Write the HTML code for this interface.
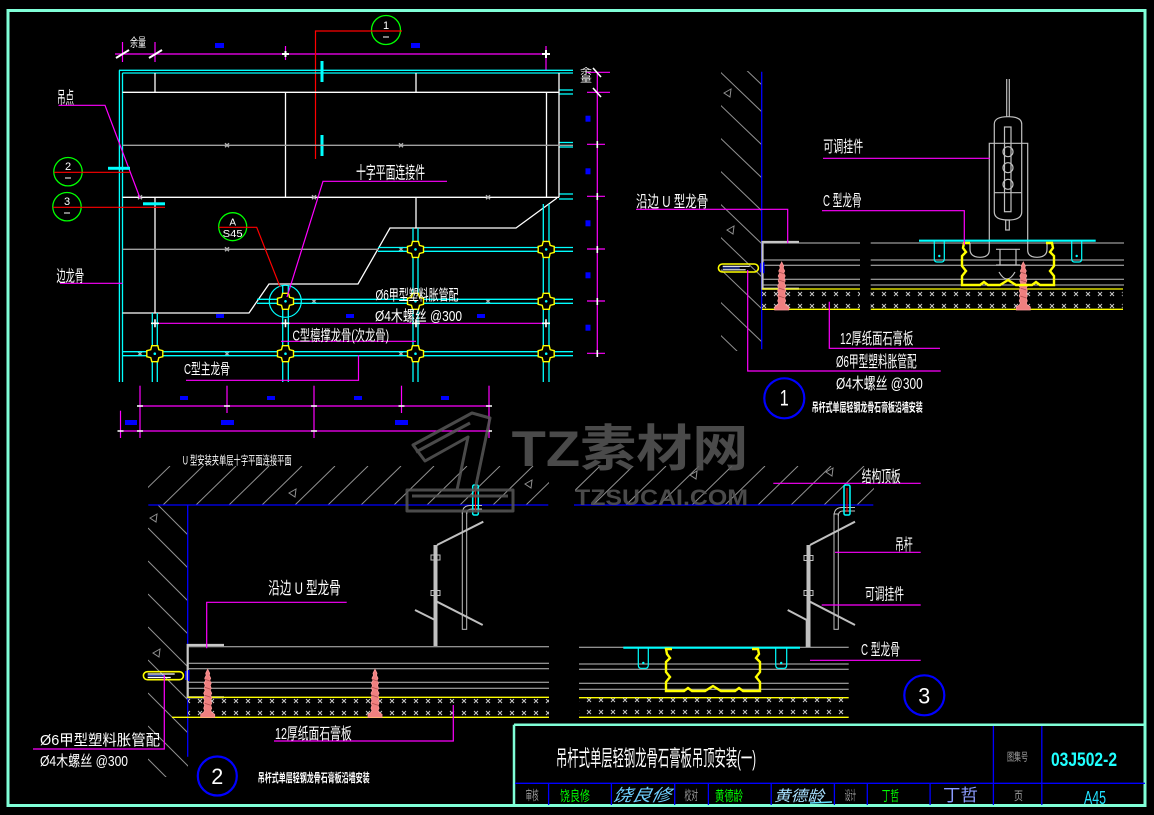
<!DOCTYPE html>
<html><head><meta charset="utf-8">
<style>
html,body{margin:0;padding:0;background:#000;}
svg{display:block;}
text{font-family:"Liberation Sans","Noto Sans CJK SC",sans-serif;}
</style></head><body>
<svg width="1154" height="815" viewBox="0 0 1154 815" xmlns="http://www.w3.org/2000/svg">
<rect width="1154" height="815" fill="#000"/>
<defs>
 <pattern id="xp1" x="2" y="0" width="12" height="12" patternUnits="userSpaceOnUse"><path d="M4,4 L8,8 M8,4 L4,8" stroke="#c8c8c8" stroke-width="1"/></pattern>
 <pattern id="xp2" x="2" y="11" width="12" height="12" patternUnits="userSpaceOnUse"><path d="M4,4 L8,8 M8,4 L4,8" stroke="#c8c8c8" stroke-width="1"/></pattern>
 <pattern id="xp3" x="7" y="10" width="12" height="12" patternUnits="userSpaceOnUse"><path d="M4,4 L8,8 M8,4 L4,8" stroke="#c8c8c8" stroke-width="1"/></pattern>
 <g id="sc">
  <polygon points="0,0 2,4 1.5,6 3,9 2,11 3.5,14 2.5,16 3.5,19 2.5,21 4,24 3,26 4,29 3,31 4,34 3,36 4,39 3,41 4,43 7,45 7,48 -7,48 -7,45 -4,43 -3,41 -4,39 -3,36 -4,34 -3,31 -4,29 -3,26 -4,24 -2.5,21 -3.5,19 -2.5,16 -3.5,14 -2,11 -3,9 -1.5,6 -2,4" fill="#f08080" stroke="#ff9a9a" stroke-width="0.8"/>
  <path d="M-3,10 L3,12 M-3,18 L3,20 M-3,26 L3,28 M-3,34 L3,36" stroke="#b05050" stroke-width="0.8"/>
 </g>
 <g id="an">
  <rect x="0.7" y="0.7" width="40" height="8" rx="4" fill="none" stroke="#ffff00" stroke-width="1.6"/>
  <path d="M5,3 L32,3 M5,6.5 L28,6.5" stroke="#fff" stroke-width="1.2"/>
  <path d="M5,4.7 L22,4.7" stroke="#4060ff" stroke-width="1"/>
  <path d="M43,0 L43,9 M46,-1 L46,10" stroke="#0000ff" stroke-width="1.5"/>
 </g>
 <g id="nd">
  <polygon points="-3,-8 3,-8 4,-4 8,-3 8,3 4,4 3,8 -3,8 -4,4 -8,3 -8,-3 -4,-4" fill="#000" stroke="#ffff00" stroke-width="1.4"/>
  <circle cx="0" cy="0" r="1.3" fill="#00ffff"/>
 </g>
 <clipPath id="cw1"><rect x="721" y="71" width="41" height="280"/></clipPath>
 <clipPath id="cw2"><rect x="148" y="505" width="40" height="272"/></clipPath>
 <clipPath id="ct2"><rect x="148" y="466" width="401" height="39"/></clipPath>
 <clipPath id="ct3"><rect x="575" y="466" width="299" height="39"/></clipPath>
</defs>

<!-- ===== Sheet border ===== -->
<rect x="8" y="10.5" width="1137" height="795" fill="none" stroke="#80ffd8" stroke-width="3"/>

<!-- ===== PLAN (top-left) ===== -->
<!-- top dimension -->
<g stroke="#ff00ff" stroke-width="1.2">
 <line x1="115" y1="54" x2="550" y2="54"/>
 <line x1="122.5" y1="42" x2="122.5" y2="62"/>
 <line x1="155" y1="42" x2="155" y2="62"/>
 <line x1="285.5" y1="46" x2="285.5" y2="60"/>
 <line x1="546" y1="46" x2="546" y2="70"/>
</g>
<g stroke="#fff" stroke-width="2">
 <line x1="116" y1="58" x2="129" y2="50"/>
 <line x1="149" y1="58" x2="162" y2="50"/>
 <line x1="282" y1="54" x2="289" y2="54"/><line x1="285.5" y1="51" x2="285.5" y2="57"/>
 <line x1="542" y1="54" x2="550" y2="54"/><line x1="546" y1="50" x2="546" y2="58"/>
</g>
<text x="130" y="46.5" font-size="12" fill="#fff" textLength="16" lengthAdjust="spacingAndGlyphs">余量</text>
<rect x="215" y="43" width="9" height="5" fill="#0000ff"/>
<rect x="411" y="43" width="9" height="5" fill="#0000ff"/>

<!-- circle 1 -->
<circle cx="386" cy="30" r="14.5" fill="none" stroke="#00ff00" stroke-width="1.3"/>
<text x="386" y="29" font-size="11" fill="#fff" text-anchor="middle">1</text>
<line x1="383" y1="37" x2="389" y2="37" stroke="#fff" stroke-width="1"/>
<path d="M402,31 L315.5,31 L315.5,159" fill="none" stroke="#ff0000" stroke-width="1.2"/>
<rect x="320.5" y="61" width="3" height="21" fill="#00ffff"/>
<rect x="320.5" y="135" width="3" height="21" fill="#00ffff"/>

<!-- frame cyan -->
<g stroke="#00ffff" stroke-width="1.3" fill="none">
 <line x1="119" y1="70.3" x2="573" y2="70.3"/>
 <line x1="122.5" y1="73" x2="573" y2="73"/>
 <line x1="119.4" y1="70.3" x2="119.4" y2="382"/>
 <line x1="122.5" y1="73" x2="122.5" y2="382"/>
 <line x1="559" y1="90" x2="573" y2="90"/><line x1="559" y1="94" x2="573" y2="94"/>
 <line x1="559" y1="142.5" x2="573" y2="142.5"/><line x1="559" y1="147" x2="573" y2="147"/>
 <line x1="559" y1="194" x2="573" y2="194"/><line x1="559" y1="199" x2="573" y2="199"/>
</g>
<!-- white lines -->
<g stroke="#fff" stroke-width="1.3" fill="none">
 <line x1="122.5" y1="92.3" x2="559" y2="92.3"/>
 <line x1="559" y1="73" x2="559" y2="197.3"/>
 <line x1="546.5" y1="92.3" x2="546.5" y2="197.3"/>
 <line x1="155" y1="73" x2="155" y2="92.3"/>
 <line x1="416" y1="73" x2="416" y2="92.3"/>
 <line x1="285.5" y1="92.3" x2="285.5" y2="197.3"/>
 <line x1="122.5" y1="197.3" x2="559" y2="197.3"/>
 <line x1="155" y1="197.3" x2="155" y2="313"/>
 <line x1="416" y1="197.3" x2="416" y2="228"/>
 <path d="M557,198 L516,228 L390,228 L358,284 L269,284 L249,313 L122.5,313"/>
</g>
<g stroke="#a0a0a0" stroke-width="1.3">
 <line x1="122.5" y1="145.3" x2="573" y2="145.3"/>
 <line x1="122.5" y1="249.3" x2="378" y2="249.3"/>
</g>
<path d="M225,143.3 l4,4 m0,-4 l-4,4 M399,143.3 l4,4 m0,-4 l-4,4 M138,195.3 l4,4 m0,-4 l-4,4 M312,195.3 l4,4 m0,-4 l-4,4 M486,195.3 l4,4 m0,-4 l-4,4 M225,247.3 l4,4 m0,-4 l-4,4 M399,247.3 l4,4 m0,-4 l-4,4 M312,299.3 l4,4 m0,-4 l-4,4 M486,299.3 l4,4 m0,-4 l-4,4 M138,351.7 l4,4 m0,-4 l-4,4 M225,351.7 l4,4 m0,-4 l-4,4 M399,351.7 l4,4 m0,-4 l-4,4" stroke="#b0b0b0" stroke-width="1.4"/>

<!-- cyan grid -->
<g stroke="#00ffff" stroke-width="1.3">
 <line x1="378" y1="247.5" x2="573" y2="247.5"/><line x1="378" y1="251.3" x2="573" y2="251.3"/>
 <line x1="257" y1="299.3" x2="573" y2="299.3"/><line x1="257" y1="303.3" x2="573" y2="303.3"/>
 <line x1="122.5" y1="351.7" x2="573" y2="351.7"/><line x1="122.5" y1="355.7" x2="573" y2="355.7"/>
 <line x1="152.3" y1="313" x2="152.3" y2="382"/><line x1="157.3" y1="313" x2="157.3" y2="382"/>
 <line x1="282.7" y1="286" x2="282.7" y2="382"/><line x1="288.3" y1="286" x2="288.3" y2="382"/>
 <line x1="413" y1="228" x2="413" y2="382"/><line x1="418" y1="228" x2="418" y2="382"/>
 <line x1="543.3" y1="204" x2="543.3" y2="382"/><line x1="549" y1="204" x2="549" y2="382"/>
</g>
<circle cx="285.3" cy="301.3" r="16" fill="none" stroke="#00ffff" stroke-width="1.2"/>
<use href="#nd" x="415.5" y="249.4"/>
<use href="#nd" x="546.2" y="249.4"/>
<use href="#nd" x="285.5" y="301.3"/>
<use href="#nd" x="415.5" y="301.3"/>
<use href="#nd" x="546.2" y="301.3"/>
<use href="#nd" x="154.8" y="353.7"/>
<use href="#nd" x="285.5" y="353.7"/>
<use href="#nd" x="415.5" y="353.7"/>
<use href="#nd" x="546.2" y="353.7"/>

<!-- plan leaders -->
<g stroke="#ff00ff" stroke-width="1.2" fill="none">
 <path d="M447,181.3 L323,181.3 L287,297"/>
 <path d="M58.5,105.3 L105,105.3 L140,198"/>
 <line x1="60" y1="283.3" x2="122.5" y2="283.3"/>
 <line x1="154" y1="323.3" x2="546" y2="323.3"/>
 <line x1="281" y1="341.3" x2="416" y2="341.3"/>
 <path d="M186,380.3 L358.5,380.3 L358.5,355"/>
</g>
<g stroke="#fff" stroke-width="1.6">
 <path d="M151,323.3 h8 M155,319.3 v8 M281.5,323.3 h8 M285.5,319.3 v8 M412,323.3 h8 M416,319.3 v8 M542,323.3 h8 M546,319.3 v8"/>
</g>
<text x="57" y="103.5" font-size="17" fill="#fff" textLength="17" lengthAdjust="spacingAndGlyphs">吊点</text>
<text x="56.5" y="281.5" font-size="16" fill="#fff" textLength="27.5" lengthAdjust="spacingAndGlyphs">边龙骨</text>
<text x="356" y="178.5" font-size="17" fill="#fff" textLength="69" lengthAdjust="spacingAndGlyphs">十字平面连接件</text>
<text x="375.5" y="300" font-size="15" fill="#fff" textLength="83" lengthAdjust="spacingAndGlyphs">Ø6甲型塑料胀管配</text>
<text x="375" y="321" font-size="15" fill="#fff" textLength="87" lengthAdjust="spacingAndGlyphs">Ø4木螺丝  @300</text>
<text x="292.5" y="340.5" font-size="15" fill="#fff" textLength="96.5" lengthAdjust="spacingAndGlyphs">C型檩撑龙骨(次龙骨)</text>
<text x="184" y="374" font-size="15" fill="#fff" textLength="46" lengthAdjust="spacingAndGlyphs">C型主龙骨</text>

<!-- circles 2,3,A -->
<circle cx="68" cy="171.7" r="14.2" fill="none" stroke="#00ff00" stroke-width="1.3"/>
<text x="68" y="170" font-size="11" fill="#fff" text-anchor="middle">2</text>
<line x1="65" y1="178" x2="71" y2="178" stroke="#fff"/>
<line x1="54" y1="172.3" x2="130" y2="172.3" stroke="#ff0000" stroke-width="1.2"/>
<rect x="108" y="166.8" width="22" height="3" fill="#00ffff"/>
<circle cx="67" cy="206.7" r="14.2" fill="none" stroke="#00ff00" stroke-width="1.3"/>
<text x="67" y="205" font-size="11" fill="#fff" text-anchor="middle">3</text>
<line x1="64" y1="213" x2="70" y2="213" stroke="#fff"/>
<line x1="53" y1="207.3" x2="165" y2="207.3" stroke="#ff0000" stroke-width="1.2"/>
<rect x="143" y="202.3" width="22" height="3" fill="#00ffff"/>
<circle cx="232.7" cy="226.7" r="14" fill="none" stroke="#00ff00" stroke-width="1.3"/>
<text x="232.7" y="225.5" font-size="10" fill="#fff" text-anchor="middle">A</text>
<text x="222.7" y="237" font-size="10" fill="#fff" textLength="20" lengthAdjust="spacingAndGlyphs">S45</text>
<path d="M218.7,227.3 L256.7,227.3 L280,286.7" fill="none" stroke="#ff0000" stroke-width="1.2"/>

<rect x="216" y="314" width="8" height="4" fill="#0000ff"/>
<rect x="346" y="314" width="8" height="4" fill="#0000ff"/>
<rect x="477" y="314" width="8" height="4" fill="#0000ff"/>

<!-- bottom dims -->
<g stroke="#ff00ff" stroke-width="1.2">
 <line x1="140" y1="406" x2="489" y2="406"/>
 <line x1="140" y1="385.7" x2="140" y2="438"/>
 <line x1="227" y1="385.7" x2="227" y2="413"/>
 <line x1="314" y1="385.7" x2="314" y2="438"/>
 <line x1="401.5" y1="385.7" x2="401.5" y2="413"/>
 <line x1="489" y1="385.7" x2="489" y2="438"/>
 <line x1="120.5" y1="431" x2="489" y2="431"/>
 <line x1="120.5" y1="410.7" x2="120.5" y2="438"/>
</g>
<g stroke="#fff" stroke-width="1.5">
 <path d="M137,406 h6 M224,406 h6 M311,406 h6 M398.5,406 h6 M486,406 h6 M117.5,431 h6 M137,431 h6 M311,431 h6 M486,431 h6"/>
</g>
<rect x="180" y="396" width="8" height="4" fill="#0000ff"/>
<rect x="267" y="396" width="8" height="4" fill="#0000ff"/>
<rect x="354" y="396" width="8" height="4" fill="#0000ff"/>
<rect x="441" y="396" width="8" height="4" fill="#0000ff"/>
<rect x="125" y="420" width="12" height="5" fill="#0000ff"/>
<rect x="221" y="420" width="13" height="5" fill="#0000ff"/>
<rect x="395" y="420" width="13" height="5" fill="#0000ff"/>

<!-- right dims -->
<g stroke="#ff00ff" stroke-width="1.2">
 <line x1="597.3" y1="72" x2="597.3" y2="353.3"/>
 <line x1="586.7" y1="72.3" x2="610" y2="72.3"/>
 <line x1="587" y1="92.3" x2="610" y2="92.3"/>
 <line x1="587" y1="144.3" x2="605" y2="144.3"/>
 <line x1="587" y1="196.3" x2="605" y2="196.3"/>
 <line x1="587" y1="249" x2="605" y2="249"/>
 <line x1="587" y1="301" x2="605" y2="301"/>
 <line x1="587" y1="353.3" x2="605" y2="353.3"/>
</g>
<g stroke="#fff" stroke-width="1.6">
 <path d="M593,68 L601,77 M593,88 L601,97 M597.3,141 v7 M597.3,193 v7 M597.3,246 v7 M597.3,298 v7 M597.3,350 v7"/>
</g>
<rect x="585.5" y="115.7" width="5" height="6" fill="#0000ff"/>
<rect x="585.5" y="168.3" width="5" height="6" fill="#0000ff"/>
<rect x="585.5" y="220.3" width="5" height="6" fill="#0000ff"/>
<rect x="585.5" y="272.3" width="5" height="6" fill="#0000ff"/>
<rect x="585.5" y="324.7" width="5" height="6" fill="#0000ff"/>
<text x="580" y="74" font-size="8" fill="#fff" textLength="12" lengthAdjust="spacingAndGlyphs">余</text>
<text x="580" y="82" font-size="8" fill="#fff" textLength="12" lengthAdjust="spacingAndGlyphs">量</text>

<text x="182.7" y="464.5" font-size="12" fill="#fff" textLength="109" lengthAdjust="spacingAndGlyphs">U 型安装夹单层十字平面连接平面</text>

<!-- ===== DETAIL 1 (top-right) ===== -->
<g clip-path="url(#cw1)" stroke="#909090" stroke-width="1">
 <line x1="715" y1="40" x2="762" y2="85"/>
 <line x1="715" y1="67" x2="762" y2="112"/>
 <line x1="715" y1="100" x2="762" y2="145"/>
 <line x1="715" y1="133" x2="762" y2="178"/>
 <line x1="715" y1="166" x2="762" y2="211"/>
 <line x1="715" y1="199" x2="762" y2="244"/>
 <line x1="715" y1="232" x2="762" y2="277"/>
 <line x1="715" y1="264" x2="762" y2="309"/>
 <line x1="715" y1="297" x2="762" y2="342"/>
 <line x1="715" y1="330" x2="762" y2="375"/>
</g>
<path d="M724,93 L731,89 L730,97 Z M727,230 L734,226 L733,234 Z" fill="none" stroke="#909090"/>
<line x1="761.7" y1="71.7" x2="761.7" y2="349.3" stroke="#0000ff" stroke-width="1.3"/>
<path d="M799,242 L762.5,242 L762.5,288.7 L799,288.7" fill="none" stroke="#c8c8c8" stroke-width="2.2"/>
<g stroke="#c0c0c0" stroke-width="1">
 <path d="M762,243 H860 M870.7,243 H1124 M762,260 H860 M870.7,260 H1124 M762,265.3 H860 M870.7,265.3 H1124 M762,279.3 H860 M870.7,279.3 H1124 M762,285 H860 M870.7,285 H1124"/>
</g>
<g stroke="#ffff00" stroke-width="1.3">
 <path d="M762,289 H860 M870.7,289 H1123 M762,309.3 H860 M870.7,309.3 H1123"/>
</g>
<rect x="762" y="290" width="98" height="19" fill="url(#xp1)"/>
<rect x="870.7" y="290" width="252" height="19" fill="url(#xp1)"/>
<use href="#sc" x="781.7" y="262"/>
<use href="#sc" x="1023.3" y="262"/>
<use href="#an" x="717.7" y="263.3"/>

<!-- hanger -->
<g stroke="#c0c0c0" stroke-width="1.2" fill="none">
 <line x1="1006.7" y1="79" x2="1006.7" y2="117"/><line x1="1009.3" y1="79" x2="1009.3" y2="117"/>
 <path d="M994.3,212 L994.3,124 Q994.3,116.7 1008,116.7 Q1021.7,116.7 1021.7,124 L1021.7,212 Q1021.7,220 1008,220 Q994.3,220 994.3,212 Z"/>
 <path d="M989.3,241 L989.3,143.3 L1027.7,143.3 L1027.7,241"/>
 <line x1="994.3" y1="192.7" x2="1021.7" y2="192.7"/>
 <rect x="1004.5" y="127" width="6.5" height="84.7"/>
 <circle cx="1008" cy="151.7" r="5"/><circle cx="1008" cy="167.7" r="5"/><circle cx="1008" cy="184.3" r="5"/>
 <rect x="1005.7" y="220" width="3.6" height="10"/>
 <path d="M989.3,241 L989.3,250 Q989.3,257.3 980,257.3 Q970,257.3 970,249 L970,243"/>
 <path d="M1027.7,241 L1027.7,250 Q1027.7,257.3 1037,257.3 Q1047,257.3 1047,249 L1047,243"/>
 <path d="M996,249.3 H1020 M1000,249.3 V265 M1016,249.3 V265 M996,265 H1020"/>
 <path d="M999,272 Q1007,286 1015,272"/>
</g>
<line x1="919" y1="240.7" x2="1095.7" y2="240.7" stroke="#00ffff" stroke-width="2.2"/>
<g stroke="#00ffff" stroke-width="1.2" fill="none">
 <path d="M934.3,241 L934.3,259 Q934.3,262 937,262 L941.5,262 Q944.3,262 944.3,259 L944.3,241"/>
 <path d="M1071.7,241 L1071.7,259 Q1071.7,262 1074.5,262 L1079,262 Q1081.7,262 1081.7,259 L1081.7,241"/>
</g>
<circle cx="939.3" cy="256" r="1.2" fill="#00ffff"/><circle cx="1076.7" cy="256" r="1.2" fill="#00ffff"/>
<path d="M970,243 L964,243 L963,248 L966,252 L962,256 L962,266 L966,271 L962,276 L962,285 L980,285 L984,282 L988,285 L1000,285 L1008,280 L1016,285 L1032,285 L1036,282 L1040,285 L1054,285 L1054,276 L1050,271 L1054,266 L1054,256 L1050,252 L1053,248 L1052,243 L1046,243" fill="none" stroke="#ffff00" stroke-width="2.4"/>

<g stroke="#ff00ff" stroke-width="1.2" fill="none">
 <line x1="823" y1="158.3" x2="990" y2="158.3"/>
 <path d="M822,210.7 L964.3,210.7 L964.3,245"/>
 <path d="M636,209.3 L787.7,209.3 L787.7,243.3"/>
 <path d="M940,348.3 L829.3,348.3 L829.3,301.7"/>
 <path d="M940.7,371 L747.7,371 L747.7,270"/>
</g>
<text x="823.3" y="152" font-size="16" fill="#fff" textLength="40" lengthAdjust="spacingAndGlyphs">可调挂件</text>
<text x="823" y="206" font-size="16" fill="#fff" textLength="38.7" lengthAdjust="spacingAndGlyphs">C 型龙骨</text>
<text x="636" y="207" font-size="16" fill="#fff" textLength="72.3" lengthAdjust="spacingAndGlyphs">沿边 U 型龙骨</text>
<text x="840" y="344" font-size="16" fill="#fff" textLength="73.3" lengthAdjust="spacingAndGlyphs">12厚纸面石膏板</text>
<text x="836" y="367" font-size="16" fill="#fff" textLength="80.7" lengthAdjust="spacingAndGlyphs">Ø6甲型塑料胀管配</text>
<text x="836" y="389" font-size="16" fill="#fff" textLength="86.7" lengthAdjust="spacingAndGlyphs">Ø4木螺丝  @300</text>
<circle cx="784.3" cy="398.3" r="20" fill="none" stroke="#0000ff" stroke-width="2.2"/>
<text x="784.3" y="405.5" font-size="22" fill="#fff" text-anchor="middle" textLength="9" lengthAdjust="spacingAndGlyphs">1</text>
<text x="811.7" y="411.5" font-size="12" font-weight="bold" fill="#fff" textLength="111" lengthAdjust="spacingAndGlyphs">吊杆式单层轻钢龙骨石膏板沿墙安装</text>

<!-- ===== DETAIL 2 (bottom-left) ===== -->
<g clip-path="url(#ct2)" stroke="#909090" stroke-width="1">
 <line x1="130" y1="505" x2="170" y2="466"/><line x1="163" y1="505" x2="203" y2="466"/>
 <line x1="196" y1="505" x2="236" y2="466"/><line x1="229" y1="505" x2="269" y2="466"/>
 <line x1="262" y1="505" x2="302" y2="466"/><line x1="295" y1="505" x2="335" y2="466"/>
 <line x1="328" y1="505" x2="368" y2="466"/><line x1="361" y1="505" x2="401" y2="466"/>
 <line x1="394" y1="505" x2="434" y2="466"/><line x1="427" y1="505" x2="467" y2="466"/>
 <line x1="460" y1="505" x2="500" y2="466"/><line x1="493" y1="505" x2="533" y2="466"/>
 <line x1="526" y1="505" x2="566" y2="466"/>
</g>
<g clip-path="url(#cw2)" stroke="#909090" stroke-width="1">
 <line x1="148" y1="495" x2="190" y2="537"/><line x1="148" y1="528" x2="190" y2="570"/>
 <line x1="148" y1="561" x2="190" y2="603"/><line x1="148" y1="594" x2="190" y2="636"/>
 <line x1="148" y1="627" x2="190" y2="669"/><line x1="148" y1="660" x2="190" y2="702"/>
 <line x1="148" y1="693" x2="190" y2="735"/><line x1="148" y1="726" x2="190" y2="768"/>
 <line x1="148" y1="759" x2="190" y2="801"/>
</g>
<path d="M150,518 L157,514 L156,522 Z M153,653 L160,649 L159,657 Z M289,493 L296,489 L295,497 Z M525,484 L532,480 L531,488 Z" fill="none" stroke="#909090"/>
<line x1="148.3" y1="505" x2="548.3" y2="505" stroke="#0000ff" stroke-width="1.3"/>
<line x1="187.7" y1="505" x2="187.7" y2="756.7" stroke="#0000ff" stroke-width="1.3"/>
<path d="M224,645 L187.7,645 L187.7,697.3 L224,697.3" fill="none" stroke="#c8c8c8" stroke-width="2.2"/>
<g stroke="#c0c0c0" stroke-width="1">
 <path d="M188,646.7 H549 M188,663.3 H549 M188,668.7 H549 M188,682.3 H549 M188,688.3 H549"/>
</g>
<g stroke="#ffff00" stroke-width="1.3">
 <path d="M187.7,697.3 H549 M172,717.3 H549"/>
</g>
<rect x="188" y="698" width="361" height="19" fill="url(#xp2)"/>
<use href="#sc" x="207.7" y="669.3"/>
<use href="#sc" x="375" y="669.3"/>
<use href="#an" x="142.7" y="671"/>
<!-- hanger 2 -->
<rect x="433.5" y="545" width="4" height="101" fill="#c0c0c0"/>
<g stroke="#c0c0c0" stroke-width="2">
 <line x1="437" y1="545" x2="483.3" y2="521.7"/>
 <line x1="437" y1="601.7" x2="482.7" y2="625"/>
 <line x1="415" y1="610" x2="435" y2="620"/>
</g>
<g stroke="#c0c0c0" stroke-width="1" fill="none">
 <rect x="431" y="555" width="9" height="5"/><rect x="431" y="590.5" width="9" height="5"/>
 <rect x="462.3" y="512" width="4.4" height="117.3"/>
 <path d="M462.3,514 Q462.3,505.5 470,505.5 L482,505.5 M466.7,514 Q466.7,509 472,509 L482,509"/>
</g>
<rect x="472.7" y="485" width="5.6" height="30" rx="1.5" fill="none" stroke="#00ffff" stroke-width="1.5"/>
<line x1="475.5" y1="488" x2="475.5" y2="512" stroke="#ff0000" stroke-width="1"/>

<g stroke="#ff00ff" stroke-width="1.2" fill="none">
 <path d="M346.7,602.3 L206.7,602.3 L206.7,648.3"/>
 <path d="M274,741 L453.3,741 L453.3,705"/>
 <path d="M164.3,675 L164.3,749 L33,749"/>
</g>
<text x="268.3" y="594" font-size="17" fill="#fff" textLength="72.4" lengthAdjust="spacingAndGlyphs">沿边 U 型龙骨</text>
<text x="275" y="739" font-size="16" fill="#fff" textLength="76.7" lengthAdjust="spacingAndGlyphs">12厚纸面石膏板</text>
<text x="40" y="745" font-size="15" fill="#fff" textLength="120" lengthAdjust="spacingAndGlyphs">Ø6甲型塑料胀管配</text>
<text x="40" y="766" font-size="15" fill="#fff" textLength="88" lengthAdjust="spacingAndGlyphs">Ø4木螺丝  @300</text>
<circle cx="217.3" cy="776" r="19.5" fill="none" stroke="#0000ff" stroke-width="2.2"/>
<text x="217.3" y="784" font-size="22" fill="#fff" text-anchor="middle" textLength="12" lengthAdjust="spacingAndGlyphs">2</text>
<text x="257.7" y="782" font-size="12" font-weight="bold" fill="#fff" textLength="112" lengthAdjust="spacingAndGlyphs">吊杆式单层轻钢龙骨石膏板沿墙安装</text>

<!-- ===== DETAIL 3 (bottom-middle) ===== -->
<g clip-path="url(#ct3)" stroke="#909090" stroke-width="1">
 <line x1="560" y1="505" x2="600" y2="466"/><line x1="593" y1="505" x2="633" y2="466"/>
 <line x1="626" y1="505" x2="666" y2="466"/><line x1="659" y1="505" x2="699" y2="466"/>
 <line x1="692" y1="505" x2="732" y2="466"/><line x1="725" y1="505" x2="765" y2="466"/>
 <line x1="758" y1="505" x2="798" y2="466"/><line x1="791" y1="505" x2="831" y2="466"/>
 <line x1="824" y1="505" x2="864" y2="466"/><line x1="857" y1="505" x2="897" y2="466"/>
</g>
<path d="M690,475 L697,471 L696,479 Z M826,472 L833,468 L832,476 Z" fill="none" stroke="#909090"/>
<line x1="574" y1="505" x2="873.3" y2="505" stroke="#0000ff" stroke-width="1.3"/>
<g stroke="#c0c0c0" stroke-width="1">
 <path d="M579,647.3 H848.7 M579,664 H848.7 M579,669.3 H848.7 M579,683.3 H848.7 M579,689.3 H848.7"/>
</g>
<g stroke="#ffff00" stroke-width="1.3">
 <path d="M579,697.7 H848.7 M579,717.3 H848.7"/>
</g>
<rect x="579" y="696" width="270" height="21" fill="url(#xp3)"/>
<line x1="623.3" y1="647.7" x2="800" y2="647.7" stroke="#00ffff" stroke-width="2.2"/>
<g stroke="#00ffff" stroke-width="1.2" fill="none">
 <path d="M638.3,648 L638.3,665 Q638.3,668.3 641,668.3 L645.5,668.3 Q648.3,668.3 648.3,665 L648.3,648"/>
 <path d="M775.7,648 L775.7,665 Q775.7,668.3 778.5,668.3 L784,668.3 Q786.7,668.3 786.7,665 L786.7,648"/>
</g>
<circle cx="643.3" cy="663" r="1.2" fill="#00ffff"/><circle cx="781.2" cy="663" r="1.2" fill="#00ffff"/>
<path d="M672,649 L666,649 L667,654 L670,658 L666,662 L666,672 L670,677 L666,682 L666,691 L684,691 L688,688 L692,691 L705,691 L713,686 L721,691 L735,691 L739,688 L743,691 L760,691 L760,682 L756,677 L760,672 L760,662 L756,658 L759,654 L758,649 L752,649" fill="none" stroke="#ffff00" stroke-width="2.4"/>
<!-- hanger 3 -->
<rect x="806.5" y="545" width="4" height="102" fill="#c0c0c0"/>
<g stroke="#c0c0c0" stroke-width="2">
 <line x1="810" y1="545" x2="855" y2="521.7"/>
 <line x1="810" y1="601.7" x2="855" y2="625"/>
 <path d="M787.7,610 L806.7,620 L806.7,647" fill="none"/>
</g>
<g stroke="#c0c0c0" stroke-width="1" fill="none">
 <rect x="804" y="555.5" width="9" height="5"/><rect x="804" y="590.5" width="9" height="5"/>
 <rect x="834" y="514" width="4.3" height="115.3"/>
 <path d="M834,516 Q834,507.5 842,507.5 L855,507.5 M838.3,516 Q838.3,511 843,511 L855,511"/>
</g>
<rect x="844" y="485" width="6" height="30" rx="1.5" fill="none" stroke="#00ffff" stroke-width="1.5"/>
<line x1="847" y1="488" x2="847" y2="512" stroke="#ff0000" stroke-width="1"/>
<g stroke="#ff00ff" stroke-width="1.2">
 <line x1="773.3" y1="483.3" x2="920.7" y2="483.3"/>
 <line x1="835" y1="552.3" x2="920.7" y2="552.3"/>
 <line x1="821.7" y1="605" x2="920.7" y2="605"/>
 <line x1="810" y1="660.3" x2="920.7" y2="660.3"/>
</g>
<text x="861.7" y="482" font-size="16" fill="#fff" textLength="39" lengthAdjust="spacingAndGlyphs">结构顶板</text>
<text x="895" y="550" font-size="16" fill="#fff" textLength="17.7" lengthAdjust="spacingAndGlyphs">吊杆</text>
<text x="865" y="599.5" font-size="16" fill="#fff" textLength="39" lengthAdjust="spacingAndGlyphs">可调挂件</text>
<text x="861" y="655" font-size="16" fill="#fff" textLength="39" lengthAdjust="spacingAndGlyphs">C 型龙骨</text>
<circle cx="924.3" cy="695.3" r="20" fill="none" stroke="#0000ff" stroke-width="2.2"/>
<text x="924.3" y="703.5" font-size="22" fill="#fff" text-anchor="middle" textLength="12" lengthAdjust="spacingAndGlyphs">3</text>

<!-- ===== Watermark ===== -->
<g opacity="0.85">
 <g stroke="#585858" stroke-width="3" fill="none" stroke-linejoin="round">
  <polygon points="413,445 472,413 490,418 475,490 457,490 468,437 425,461"/>
  <line x1="416" y1="452" x2="470" y2="423"/>
  <rect x="407" y="490" width="106" height="21"/>
  <line x1="412" y1="496" x2="508" y2="496"/>
 </g>
 <text x="511.7" y="466" font-size="50" font-weight="bold" fill="#585858" textLength="236.6" lengthAdjust="spacingAndGlyphs">TZ素材网</text>
 <text x="575" y="505" font-size="22" font-weight="bold" fill="#585858" textLength="173" lengthAdjust="spacingAndGlyphs">TZSUCAI.COM</text>
</g>

<!-- ===== Title block ===== -->
<g stroke="#80ffd8" stroke-width="2.5">
 <line x1="514" y1="724.7" x2="1146" y2="724.7"/>
 <line x1="514" y1="724.7" x2="514" y2="806"/>
</g>
<g stroke="#0000ff" stroke-width="1.3">
 <line x1="515" y1="783.3" x2="1145" y2="783.3"/>
 <line x1="993.4" y1="726" x2="993.4" y2="805"/>
 <line x1="1041.8" y1="726" x2="1041.8" y2="805"/>
 <path d="M548.6,783.3 V805 M611.4,783.3 V805 M674.7,783.3 V805 M708.4,783.3 V805 M771.2,783.3 V805 M834.4,783.3 V805 M867.3,783.3 V805 M930.1,783.3 V805"/>
</g>
<text x="556" y="766" font-size="22" fill="#fff" textLength="200" lengthAdjust="spacingAndGlyphs">吊杆式单层轻钢龙骨石膏板吊顶安装(一)</text>
<text x="1007" y="760.5" font-size="11" fill="#a0a0a0" textLength="21" lengthAdjust="spacingAndGlyphs">图集号</text>
<text x="1051" y="766" font-size="19" font-weight="bold" fill="#20ffff" textLength="66" lengthAdjust="spacingAndGlyphs">03J502-2</text>
<text x="525.6" y="800" font-size="13" fill="#a0a0a0" textLength="13" lengthAdjust="spacingAndGlyphs">审核</text>
<text x="560" y="801" font-size="14" fill="#00ff00" textLength="30" lengthAdjust="spacingAndGlyphs">饶良修</text>
<text x="614" y="801" font-size="17" font-style="italic" fill="#70d0ff" textLength="58" lengthAdjust="spacingAndGlyphs" transform="skewX(-12) translate(168,0)">饶良修</text>
<text x="684.5" y="800" font-size="13" fill="#a0a0a0" textLength="13.5" lengthAdjust="spacingAndGlyphs">校对</text>
<text x="715" y="801" font-size="14" fill="#00ff00" textLength="28" lengthAdjust="spacingAndGlyphs">黄德龄</text>
<text x="774" y="801" font-size="15" font-style="italic" fill="#a8e0ff" textLength="50" lengthAdjust="spacingAndGlyphs">黄德龄</text>
<line x1="810" y1="803" x2="832" y2="802" stroke="#60e0ff" stroke-width="1.5"/>
<text x="844.7" y="800" font-size="13" fill="#a0a0a0" textLength="11.3" lengthAdjust="spacingAndGlyphs">设计</text>
<text x="881.7" y="801" font-size="14" fill="#00ff00" textLength="17.3" lengthAdjust="spacingAndGlyphs">丁哲</text>
<text x="943" y="801" font-size="17" fill="#8c9cff" textLength="35" lengthAdjust="spacingAndGlyphs">丁哲</text>
<text x="1014" y="800" font-size="12" fill="#a0a0a0" textLength="9" lengthAdjust="spacingAndGlyphs">页</text>
<text x="1084" y="804" font-size="18" fill="#20e0ff" textLength="22" lengthAdjust="spacingAndGlyphs">A45</text>
</svg>
</body></html>
